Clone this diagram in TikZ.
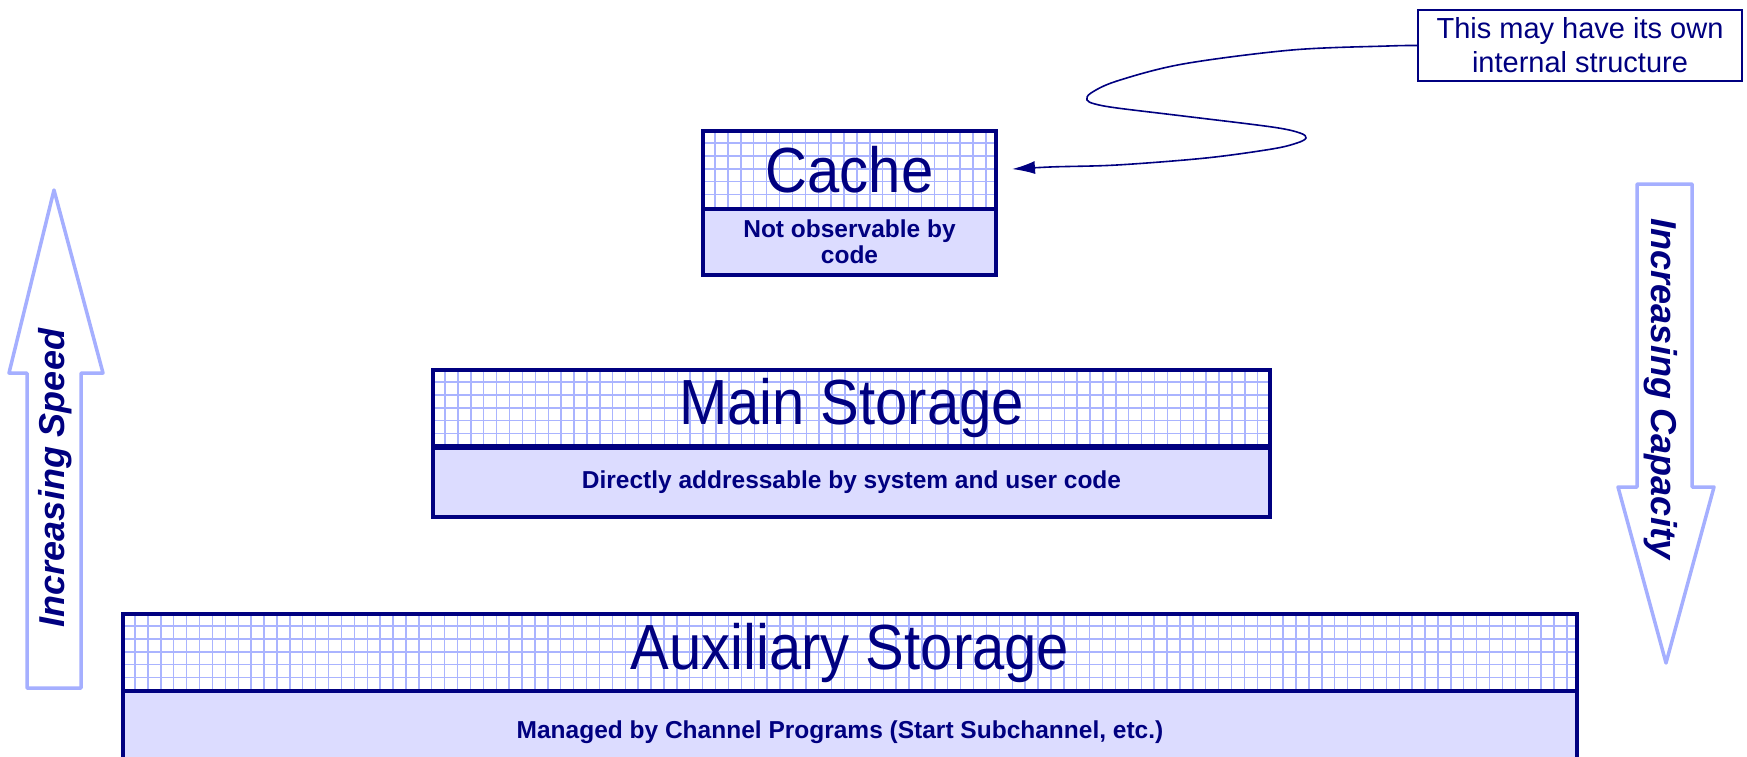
\documentclass[tikz,border=0pt]{standalone}
\usepackage{fontspec}
\setmainfont{Liberation Sans}
\usetikzlibrary{arrows.meta}
\definecolor{navy}{RGB}{0,0,128}
\definecolor{gridblue}{RGB}{170,180,255}
\definecolor{lavender}{RGB}{220,220,255}
\definecolor{arrowblue}{RGB}{165,175,255}

\begin{document}
\begin{tikzpicture}[x=1pt,y=-1pt,
  gridline/.style={draw=gridblue, line width=1.4pt},
  titlebox/.style={draw=navy, line width=4pt, fill=white, inner sep=0pt,
    text=navy, font=\fontsize{58}{60}\selectfont,
    path picture={
      \foreach \k in {0,...,115} {
        \draw[gridline] ([xshift=\k*12.9pt+12pt]path picture bounding box.north west) -- ++(0,-120pt);
      }
      \foreach \k in {0,...,8} {
        \draw[gridline] ([yshift=-\k*12.9pt-12pt]path picture bounding box.north west) -- ++(2000pt,0);
      }
    }},
  subbox/.style={draw=navy, line width=4pt, fill=lavender, inner sep=0pt,
    text=navy, align=center, font=\bfseries\fontsize{24.5}{26}\selectfont},
  notebox/.style={draw=navy, line width=2pt, fill=white, inner sep=0pt,
    text=navy, align=center, font=\fontsize{29}{34}\selectfont,
    minimum width=324pt, minimum height=71pt},
  blockarrow/.style={draw=arrowblue, line width=3.5pt, line join=round, fill=white},
  arrowlabel/.style={text=navy, font=\bfseries\itshape\fontsize{36}{40}\selectfont},
  pointer/.style={draw=navy, line width=1.6pt,
    -{Latex[length=23pt,width=13pt]}, shorten >=14pt}
]
\useasboundingbox (0,0) rectangle (1747,757);

% speed arrow (points up) and capacity arrow (points down)
\draw[blockarrow] (54,190) -- (103,373) -- (81,373) -- (81,688) -- (27,688)
  -- (27,373) -- (9,373) -- cycle;
\node[arrowlabel, rotate=90] (speed) at (55,478) {Increasing Speed};

\draw[blockarrow] (1637,184) -- (1692,184) -- (1692,487) -- (1714,487)
  -- (1666,663) -- (1618,487) -- (1637,487) -- cycle;
\node[arrowlabel, rotate=-90] (capacity) at (1661,389) {Increasing Capacity};

% storage levels
\node[titlebox, minimum width=293pt, minimum height=78pt] (cache) at (849.5,170)
  {\scalebox{1}[1.1]{Cache}};
\node[subbox, minimum width=293pt, minimum height=66pt] (cachesub) at (849.5,242)
  {Not observable by\\code};

\node[titlebox, minimum width=837pt, minimum height=76pt] (main) at (851.5,408)
  {\scalebox{1}[1.1]{Main Storage}};
\node[subbox, minimum width=837pt, minimum height=69pt] (mainsub) at (851.5,482)
  {Directly addressable by system and user code};

\node[titlebox, minimum width=1454pt, minimum height=77pt] (aux) at (850,652.5)
  {\scalebox{1}[1.1]{Auxiliary Storage}};
\node[subbox, minimum width=1454pt, minimum height=82pt] (auxsub) at (850,732)
  {\hspace*{-20pt}Managed by Channel Programs (Start Subchannel, etc.)};

% callout
\node[notebox] (note) at (1580,45.5) {This may have its own\\internal structure};
\draw[pointer] plot[smooth, tension=0.55] coordinates {
  (note.west) (1388,46) (1292,50) (1183,64) (1117,81) (1091,93) (1087,100)
  (1095,104) (1117,108) (1183,116) (1272,127) (1300,133) (1306,138)
  (1297,143) (1272,149) (1206,158) (1117,165) (1050,167) (cache.east)};
\end{tikzpicture}
\end{document}
